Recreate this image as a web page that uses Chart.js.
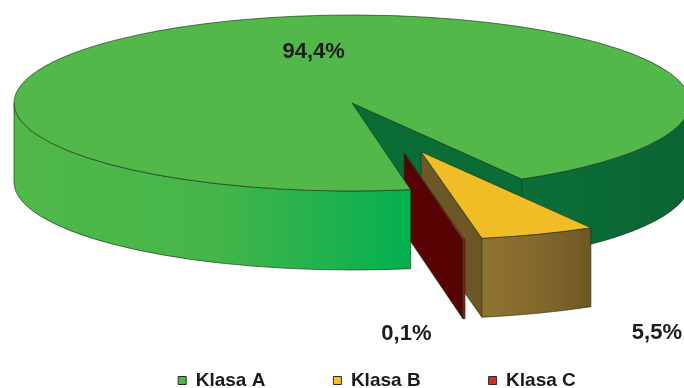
<!DOCTYPE html>
<html>
<head>
<meta charset="utf-8">
<script src="https://cdn.jsdelivr.net/npm/chart.js@4.4.0/dist/chart.umd.min.js"></script>
<style>
  html, body { margin: 0; padding: 0; background: #fff; }
</style>
</head>
<body>
<canvas id="pie" width="684" height="388"></canvas>
<script>
// class shares in percent
const classes = ['Klasa A', 'Klasa B', 'Klasa C'];
const shares = [94.4, 5.5, 0.1];

// colours: slice tops and legend boxes
const topColors = ['#52b84a', '#f1bd27', '#c3191b'];
const legendColors = ['#4cb848', '#f2c12e', '#e0262b'];

// side walls: lit (left of front), shaded (right of front), radial cut face
const wallStyle = [
  { lit: ['#4fb848', '#45b649', '#02b050'], shade: ['#0b6f37', '#0a6532'], cut: '#0b6d36' },
  { lit: ['#9a7b33', '#7a6329'], shade: ['#8f7431', '#84692c', '#6d5823'], cut: '#6b5826' },
  { lit: ['#a01212', '#8c0c0c'], shade: ['#b01818', '#9a1010'], cut: '#580303' }
];
const edgeColor = 'rgba(30,48,24,0.8)';

// pulled-out slices: distance (fraction of radius) and direction tweak (deg)
const pullOut = [0, 0.59, 0.59];
const pullTurn = [0, 0, -5];

// value labels: distance from slice centre (fraction of radius), angle tweak (deg)
const labelDist = [0.59, 2.17, 2.05];
const labelTurn = [9, 1.5, 10];

// projected disc: centre, radii and thickness in px
const disc = { x: 352, y: 103, rx: 338, ry: 88, depth: 79 };

const TAU = Math.PI * 2;
const rad = d => d * Math.PI / 180;

function sliceCentre(arc, i) {
  const mid = (arc.startAngle + arc.endAngle) / 2 + rad(pullTurn[i]);
  return {
    x: disc.x + Math.cos(mid) * pullOut[i] * disc.rx,
    y: disc.y + Math.sin(mid) * pullOut[i] * disc.ry
  };
}

function rimPoint(c, a, h) {
  return { x: c.x + Math.cos(a) * disc.rx, y: c.y + Math.sin(a) * disc.ry + h };
}

// parts of an angle range that lie on the front half of the disc
function frontSpans(s, e) {
  const out = [];
  for (let k = Math.floor(s / TAU) - 1; k <= Math.ceil(e / TAU); k++) {
    const a = Math.max(s, k * TAU), b = Math.min(e, k * TAU + Math.PI);
    if (b > a) out.push([a, b]);
  }
  return out;
}

function wallPath(ctx, c, a, b) {
  const d = disc.depth, p = rimPoint(c, b, d);
  ctx.beginPath();
  ctx.ellipse(c.x, c.y, disc.rx, disc.ry, 0, a, b);
  ctx.lineTo(p.x, p.y);
  ctx.ellipse(c.x, c.y + d, disc.rx, disc.ry, 0, b, a, true);
  ctx.closePath();
}

function cutPath(ctx, c, a) {
  const d = disc.depth, p = rimPoint(c, a, 0);
  ctx.beginPath();
  ctx.moveTo(c.x, c.y);
  ctx.lineTo(p.x, p.y);
  ctx.lineTo(p.x, p.y + d);
  ctx.lineTo(c.x, c.y + d);
  ctx.closePath();
}

function drawFace(ctx, f) {
  const st = wallStyle[f.i];
  if (f.cut !== undefined) {
    cutPath(ctx, f.c, f.cut);
    ctx.fillStyle = st.cut;
  } else {
    const [a, b] = f.span;
    wallPath(ctx, f.c, a, b);
    const cols = Math.cos((a + b) / 2) < 0 ? st.lit : st.shade;
    const xs = [a, b].map(t => f.c.x + Math.cos(t) * disc.rx);
    const g = ctx.createLinearGradient(Math.min(...xs), 0, Math.max(...xs), 0);
    cols.forEach((col, k) => g.addColorStop(k / (cols.length - 1), col));
    ctx.fillStyle = g;
  }
  ctx.fill();
  ctx.lineWidth = 0.8;
  ctx.strokeStyle = edgeColor;
  ctx.stroke();
}

// top face: the library's own arc, squashed onto the disc
function drawTop(ctx, arc, i) {
  const c = sliceCentre(arc, i);
  const r = arc.outerRadius;
  ctx.save();
  ctx.translate(c.x, c.y);
  ctx.scale(disc.rx / r, disc.ry / r);
  ctx.translate(-arc.x, -arc.y);
  arc.draw(ctx);
  ctx.restore();
  ctx.beginPath();
  ctx.moveTo(c.x, c.y);
  ctx.ellipse(c.x, c.y, disc.rx, disc.ry, 0, arc.startAngle, arc.endAngle);
  ctx.closePath();
  ctx.lineWidth = 0.8;
  ctx.strokeStyle = edgeColor;
  ctx.stroke();
}

const disc3d = {
  id: 'disc3d',
  beforeDatasetsDraw(chart) {
    const ctx = chart.ctx;
    const arcs = chart.getDatasetMeta(0).data;
    const back = [], pulled = [], front = [];
    arcs.forEach((arc, i) => {
      const c = sliceCentre(arc, i);
      const s = arc.startAngle, e = arc.endAngle;
      const key = Math.sin((s + e) / 2);
      const faces = [];
      if (Math.cos(e) > 0) faces.push({ cut: e });
      if (Math.cos(s) < 0) faces.push({ cut: s });
      frontSpans(s, e).forEach(sp => faces.push({ span: sp }));
      faces.forEach(f => {
        Object.assign(f, { i, c, key });
        if (pullOut[i] > 0) pulled.push(f);
        else if (f.span && Math.cos((f.span[0] + f.span[1]) / 2) < 0) front.push(f);
        else back.push(f);
      });
    });
    pulled.sort((p, q) => p.key - q.key);
    ctx.save();
    [...back, ...pulled, ...front].forEach(f => drawFace(ctx, f));
    arcs.forEach((arc, i) => drawTop(ctx, arc, i));
    ctx.restore();
    return false;
  },
  afterDraw(chart) {
    const ctx = chart.ctx;
    const values = chart.data.datasets[0].data;
    ctx.save();
    ctx.font = 'bold 22px "Liberation Sans", Arial, sans-serif';
    ctx.fillStyle = '#1c1c1c';
    ctx.textAlign = 'center';
    ctx.textBaseline = 'middle';
    chart.getDatasetMeta(0).data.forEach((arc, i) => {
      const c = sliceCentre(arc, i);
      const a = (arc.startAngle + arc.endAngle) / 2 + rad(labelTurn[i]);
      const x = c.x + Math.cos(a) * labelDist[i] * disc.rx;
      const y = c.y + Math.sin(a) * labelDist[i] * disc.ry;
      ctx.fillText(values[i].toFixed(1).replace('.', ',') + '%', x, y);
    });
    ctx.restore();
  }
};

new Chart(document.getElementById('pie'), {
  type: 'pie',
  data: {
    labels: classes,
    datasets: [{ data: shares, backgroundColor: topColors, borderWidth: 0 }]
  },
  options: {
    responsive: false,
    animation: false,
    events: [],
    rotation: 170,
    layout: { padding: { left: 70 } },
    plugins: {
      tooltip: { enabled: false },
      legend: {
        position: 'bottom',
        maxHeight: 85,
        labels: {
          boxWidth: 8,
          boxHeight: 8,
          padding: 68,
          color: '#1a1a1a',
          font: { family: '"Liberation Sans", Arial, sans-serif', size: 19, weight: 'bold' },
          generateLabels: chart => Chart.overrides.doughnut.plugins.legend.labels.generateLabels(chart)
            .map((item, i) => Object.assign(item, { fillStyle: legendColors[i], strokeStyle: '#2a2a2a', lineWidth: 1 }))
        }
      }
    }
  },
  plugins: [disc3d]
});
</script>
</body>
</html>
